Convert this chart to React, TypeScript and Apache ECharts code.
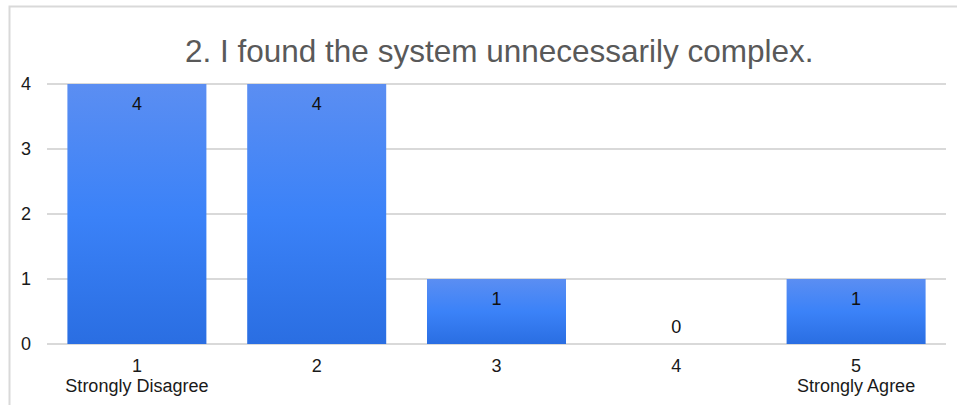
import React, { useEffect, useRef } from "react";
import * as echarts from "echarts";

const title = "2. I found the system unnecessarily complex.";
const categories = ["1\nStrongly Disagree", "2", "3", "4", "5\nStrongly Agree"];
const values = [4, 4, 1, 0, 1];
const yMin = 0;
const yMax = 4;
const yInterval = 1;

export default function App() {
  const ref = useRef<HTMLDivElement>(null);
  useEffect(() => {
    if (!ref.current) return;
    const chart = echarts.init(ref.current, undefined, { renderer: "svg" });
    const font = "'Liberation Sans', Arial, sans-serif";
    chart.setOption({
      animation: false,
      backgroundColor: "#ffffff",
      title: {
        text: title,
        left: 180,
        top: 30,
        textStyle: { fontFamily: font, fontSize: 31.5, fontWeight: "normal", color: "#595959" },
      },
      graphic: [
        {
          type: "rect",
          shape: { x: 9.5, y: 6.5, width: 1000, height: 500 },
          style: { fill: "none", stroke: "#d9d9d9", lineWidth: 2 },
          silent: true,
        },
      ],
      grid: { left: 47, right: 11, top: 84, bottom: 61, containLabel: false },
      xAxis: {
        type: "category",
        data: categories,
        axisLine: { show: false },
        axisTick: { show: false },
        axisLabel: {
          fontFamily: font,
          fontSize: 18,
          color: "#1a1a1a",
          lineHeight: 20,
          margin: 12,
          interval: 0,
        },
      },
      yAxis: {
        type: "value",
        min: yMin,
        max: yMax,
        interval: yInterval,
        axisLine: { show: false },
        axisTick: { show: false },
        splitLine: { lineStyle: { color: "#d9d9d9", width: 2 } },
        axisLabel: { fontFamily: font, fontSize: 18, color: "#1a1a1a", margin: 16 },
      },
      series: [
        {
          type: "bar",
          barWidth: 139,
          data: values.map((v) => ({
            value: v,
            label:
              v === 0
                ? { position: "top", distance: 8 }
                : { position: "insideTop", distance: 11 },
          })),
          itemStyle: {
            color: new echarts.graphic.LinearGradient(0, 0, 0, 1, [
              { offset: 0, color: "#5b8ef2" },
              { offset: 0.5, color: "#3b82f8" },
              { offset: 1, color: "#2a6ee2" },
            ]),
          },
          label: {
            show: true,
            fontFamily: font,
            fontSize: 18,
            color: "#111111",
          },
        },
      ],
    });
    return () => chart.dispose();
  }, []);
  return (
    <div
      ref={ref}
      style={{ position: "fixed", left: 0, top: 0, width: 957, height: 405 }}
    />
  );
}
